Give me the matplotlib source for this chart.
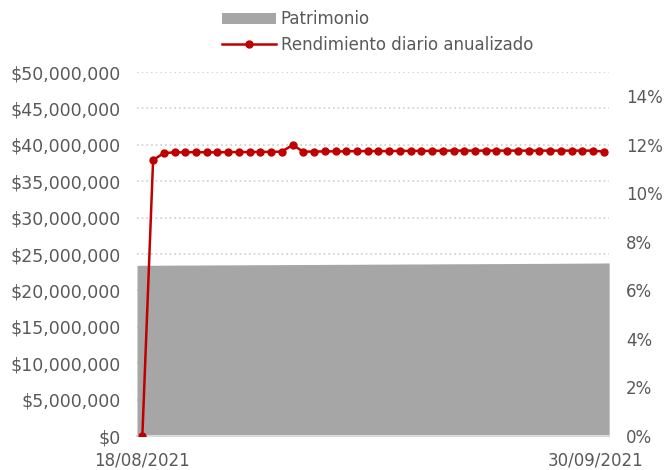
import numpy as np
import pandas as pd
import matplotlib
matplotlib.use('Agg')
import matplotlib.pyplot as plt
from matplotlib.ticker import FuncFormatter, MultipleLocator
from matplotlib.transforms import ScaledTranslation

# daily series, 18/08/2021 - 30/09/2021
fechas = pd.date_range('2021-08-18', '2021-09-30', freq='D')

# Patrimonio (millions of pesos)
patrimonio = [23.45, 23.46, 23.46, 23.47, 23.48, 23.48, 23.49, 23.50, 23.51, 23.51,
              23.52, 23.53, 23.53, 23.54, 23.55, 23.56, 23.56, 23.57, 23.58, 23.58,
              23.59, 23.60, 23.61, 23.61, 23.62, 23.63, 23.63, 23.64, 23.65, 23.66,
              23.66, 23.67, 23.68, 23.68, 23.69, 23.70, 23.71, 23.71, 23.72, 23.73,
              23.74, 23.75, 23.76, 23.78]

# Rendimiento diario anualizado (%)
rendimiento = [0.00, 11.37, 11.66, 11.69, 11.69, 11.70, 11.69, 11.69, 11.70, 11.70,
               11.70, 11.71, 11.71, 11.72, 11.99, 11.72, 11.72, 11.73, 11.73, 11.73,
               11.74, 11.74, 11.74, 11.74, 11.75, 11.75, 11.75, 11.75, 11.76, 11.76,
               11.76, 11.76, 11.76, 11.76, 11.76, 11.76, 11.76, 11.76, 11.76, 11.76,
               11.76, 11.76, 11.76, 11.72]

gris_texto = '#595959'
plt.rcParams['font.family'] = ['DejaVu Sans']

n = len(fechas)
x = np.arange(n)
# the area covers the full plot width, like a category area chart
x_area = np.linspace(-0.5, n - 0.5, n)

fig = plt.figure(figsize=(6.65, 4.7), dpi=100)
ax = fig.add_axes([0.206, 0.0723, 0.710, 0.7745])

area = ax.fill_between(x_area, np.array(patrimonio) * 1e6, 0, color='#A6A6A6',
                       linewidth=0, label='Patrimonio', zorder=2)
ax.set_xlim(-0.5, n - 0.5)
ax.set_ylim(0, 50e6)
ax.yaxis.set_major_locator(MultipleLocator(5e6))
ax.yaxis.set_major_formatter(FuncFormatter(lambda v, p: f'${v:,.0f}'))
ax.grid(axis='y', color='#D0D0D0', linestyle=(0, (1, 1.8)), linewidth=1.2, zorder=1)
ax.set_axisbelow(True)

for s in ['top', 'left', 'right']:
    ax.spines[s].set_visible(False)
ax.spines['bottom'].set_color('#D9D9D9')
ax.spines['bottom'].set_linewidth(1.5)

ax.set_xticks([0, n - 1])
ax.set_xticklabels([fechas[0].strftime('%d/%m/%Y'), fechas[-1].strftime('%d/%m/%Y')])
ax.tick_params(axis='x', length=0, pad=11, labelsize=12, labelcolor=gris_texto)
ax.tick_params(axis='y', length=0, pad=12, labelsize=12.5, labelcolor=gris_texto)
# keep the last date inside the figure
ultima = ax.get_xticklabels()[-1]
ultima.set_transform(ultima.get_transform() + ScaledTranslation(-8 / 100, 0, fig.dpi_scale_trans))

ax2 = ax.twinx()
linea, = ax2.plot(x, rendimiento, color='#C00000', linewidth=1.8, marker='o',
                  markersize=5, label='Rendimiento diario anualizado', zorder=3)
ax2.set_ylim(0, 15)
ax2.set_yticks(np.arange(0, 15, 2))
ax2.yaxis.set_major_formatter(FuncFormatter(lambda v, p: f'{v:.0f}%'))
ax2.tick_params(axis='y', length=0, pad=12, labelsize=12, labelcolor=gris_texto)
for s in ax2.spines.values():
    s.set_visible(False)

fig.legend(handles=[area, linea], loc='upper center', bbox_to_anchor=(0.568, 1.01),
           frameon=False, fontsize=12, labelcolor=gris_texto, handlelength=3.2,
           handletextpad=0.3, labelspacing=0.45)

fig.savefig('out.png', dpi=100)
